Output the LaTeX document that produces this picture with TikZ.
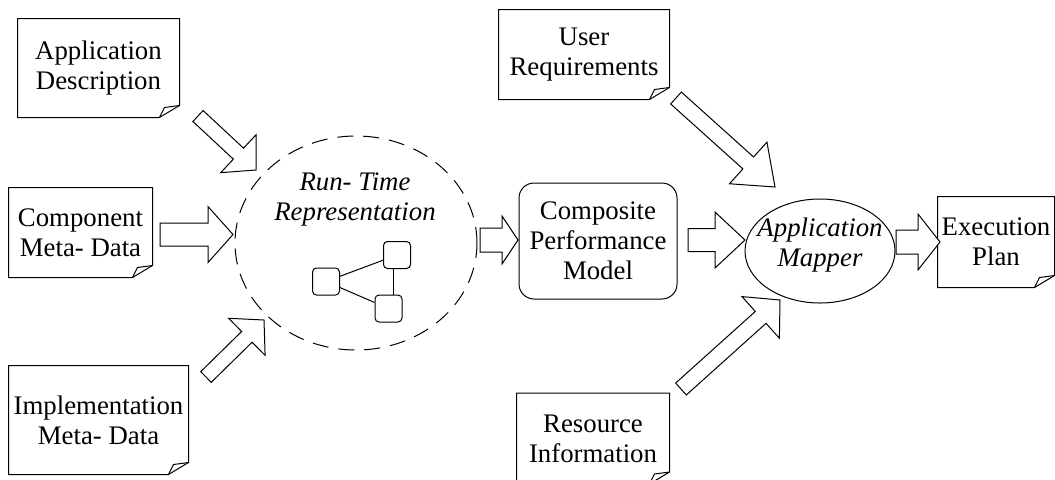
\documentclass[tikz,border=0pt]{standalone}
\usepackage{fontspec}
\setmainfont{Liberation Serif}
\usetikzlibrary{calc,shapes.geometric}

\tikzset{
  txt/.style={font=\fontsize{13.4}{15}\selectfont},
  doc/.style={txt, inner sep=1pt, align=center},
  gnode/.style={draw, rounded corners=2pt, minimum size=13.5pt, inner sep=0pt},
  fat/.style n args={3}{draw, fill=white, line join=miter, to path={
    ($(\tikztostart)!#1!90:(\tikztotarget)$)
    -- ($(\tikztotarget)!#3!(\tikztostart)!#1!90:(\tikztotarget)$)
    -- ($(\tikztotarget)!#3!(\tikztostart)!#2!90:(\tikztotarget)$)
    -- (\tikztotarget)
    -- ($(\tikztotarget)!#3!(\tikztostart)!#2!-90:(\tikztotarget)$)
    -- ($(\tikztotarget)!#3!(\tikztostart)!#1!-90:(\tikztotarget)$)
    -- ($(\tikztostart)!#1!-90:(\tikztotarget)$) -- cycle}},
}

\begin{document}
\begin{tikzpicture}[x=0.5pt, y=-0.5pt, line width=0.5pt]
    \useasboundingbox (0,0) rectangle (1055,479);
    % document boxes
    \node[doc, minimum width=80.5pt, minimum height=49pt] (appdesc) at (98.5,68) {Application\\Description};
    \node[doc, minimum width=71.5pt, minimum height=44.5pt] (compmeta) at (80.5,232.5) {Component\\Meta- Data};
    \node[doc, minimum width=89.5pt, minimum height=54pt] (implmeta) at (98.5,420) {Implementation\\Meta- Data};
    \node[doc, minimum width=85pt, minimum height=44.5pt] (userreq) at (584,54.5) {User\\Requirements};
    \node[doc, minimum width=76pt, minimum height=45pt] (resinfo) at (593,438.5) {Resource\\Information};
    \node[doc, minimum width=58pt, minimum height=45pt] (execplan) at (996,242) {Execution\\Plan};
    \foreach \n in {appdesc,compmeta,implmeta,userreq,resinfo,execplan}{
    \draw (\n.south west) -- (\n.north west) -- (\n.north east) -- ([yshift=6pt]\n.south east)
        -- ([xshift=-10pt]\n.south east) -- cycle;
    \draw ([xshift=-10pt]\n.south east) -- ([shift={(-7.5pt,5pt)}]\n.south east) -- ([yshift=6pt]\n.south east);
    }
    % run-time representation
    \node[ellipse, draw, dash pattern=on 8pt off 5pt, minimum width=121pt, minimum height=107pt] (runtime) at (356,243) {};
    \node[txt, font=\fontsize{13.4}{15}\selectfont\itshape, align=center] (rtlabel) at (355,199) {Run- Time\\Representation};
    \node[gnode] (g1) at (326,281.5) {};
    \node[gnode] (g2) at (397,255) {};
    \node[gnode] (g3) at (388.5,308.5) {};
    \draw (g1) -- (g2);
    \draw (g1) -- (g3);
    \draw ([xshift=-2pt]g2.south) -- ([xshift=-2pt]g2.south |- g3.north);
    % model and mapper
    \node[txt, draw, rounded corners=7.5pt, minimum width=79pt, minimum height=58pt, align=center] (composite) at (598,241) {Composite\\Performance\\Model};
    \node[ellipse, draw, minimum width=75pt, minimum height=52pt, inner sep=0pt] (mapper) at (820,251) {};
    \node[align=center, font=\fontsize{13.4}{15}\selectfont\itshape] (maplabel) at (820,245) {Application\\Mapper};
    % block arrows
    \coordinate (t1) at (198,116); \coordinate (h1) at (256,170);
    \coordinate (t2) at (160,234.5); \coordinate (h2) at (233,234.5);
    \coordinate (t3) at (206,377); \coordinate (h3) at (264,320);
    \coordinate (t4) at (480,240); \coordinate (h4) at (518,240);
    \coordinate (t5) at (688,240); \coordinate (h5) at (745,240);
    \coordinate (t6) at (676,98); \coordinate (h6) at (775,187);
    \coordinate (t7) at (681,389); \coordinate (h7) at (780,300);
    \coordinate (t8) at (896,242); \coordinate (h8) at (940,242);
    \foreach \s/\e/\bw/\hw/\hl in {t1/h1/3.75pt/13pt/12pt, t2/h2/5.75pt/14pt/12.5pt,
        t3/h3/3.75pt/13pt/12pt, t4/h4/6pt/12pt/8pt, t5/h5/5.75pt/14pt/15pt,
        t6/h6/4pt/14pt/18pt, t7/h7/4pt/14pt/13pt, t8/h8/6pt/14pt/11pt}{
    \draw[fat={\bw}{\hw}{\hl}] (\s) to (\e);
    }
\end{tikzpicture}
\end{document}
